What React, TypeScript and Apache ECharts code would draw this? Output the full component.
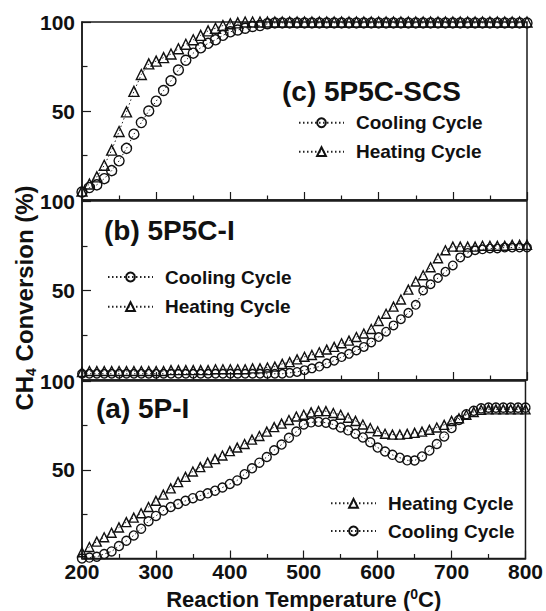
import React, { useEffect, useRef } from 'react';
import * as echarts from 'echarts';

const temps = [
  200, 210, 220, 230, 240, 250, 260, 270, 280, 290,
  300, 310, 320, 330, 340, 350, 360, 370, 380, 390,
  400, 410, 420, 430, 440, 450, 460, 470, 480, 490,
  500, 510, 520, 530, 540, 550, 560, 570, 580, 590,
  600, 610, 620, 630, 640, 650, 660, 670, 680, 690,
  700, 710, 720, 730, 740, 750, 760, 770, 780, 790,
  800,
];

// (c) 5P5C-SCS
const cHeating = [
  5, 9, 13, 19.5, 28, 38.5, 49.5, 61, 70.5, 76.5,
  78, 80, 82, 85, 87.5, 90, 92.5, 95, 96.5, 98,
  99, 99.5, 100, 100, 100, 100, 100, 100, 100, 100,
  100, 100, 100, 100, 100, 100, 100, 100, 100, 100,
  100, 100, 100, 100, 100, 100, 100, 100, 100, 100,
  100, 100, 100, 100, 100, 100, 100, 100, 100, 100,
  100,
];
const cCooling = [
  4.5, 7, 8.5, 12, 16.5, 22, 29, 37, 43.5, 50,
  55.5, 61.5, 67, 73, 78.5, 82.5, 85.5, 88, 90, 92.5,
  94.5, 95.5, 96.5, 97.5, 98, 99, 99.5, 99.5, 99.5, 99.5,
  99.5, 99.5, 99.5, 99.5, 99.5, 99.5, 99.5, 99.5, 99.5, 99.5,
  99.5, 99.5, 99.5, 99.5, 99.5, 99.5, 99.5, 99.5, 99.5, 99.5,
  99.5, 99.5, 99.5, 99.5, 99.5, 99.5, 99.5, 99.5, 99.5, 99.5,
  99.5,
];

// (b) 5P5C-I
const bHeating = [
  4.5, 5, 5, 5, 5, 5, 5, 5, 5, 5,
  5, 5, 5.5, 5.5, 5.5, 5.5, 5.5, 5.5, 6, 6,
  6, 6, 6, 6.5, 6.5, 7, 7.5, 9, 10, 11.5,
  13, 14, 15.5, 17, 18.5, 20.5, 22, 24, 26, 28.5,
  33, 37, 41, 45, 50.5, 55, 58.5, 63, 68, 72.5,
  74.5, 74.5, 74.5, 74.5, 75, 75, 75, 75, 75.5, 75.5,
  75.5,
];
const bCooling = [
  3.5, 3.5, 3.5, 3.5, 3.5, 3.5, 3.5, 3.5, 3.5, 3.5,
  3.5, 3.5, 3.5, 3.5, 3.5, 3.5, 3.5, 3.5, 3.5, 3.5,
  3.5, 3.5, 3.5, 3.5, 3.5, 3.5, 3.5, 3.5, 4, 4.5,
  5.5, 6.5, 7.5, 9.3, 10.8, 12.8, 14.6, 16.5, 18.5, 21,
  24, 27, 30.5, 34, 37.5, 42, 50, 53.5, 57, 60.5,
  64, 68.5, 71, 72.5, 73, 73.5, 73.5, 74, 74, 74,
  74,
];

// (a) 5P-I
const aHeating = [
  3.5, 6.5, 9.5, 12, 14.5, 17.5, 20.5, 23, 25.5, 29,
  32.5, 36, 39.5, 43, 46, 49, 51.5, 54, 56, 58,
  60.5, 62.5, 64.5, 67, 69, 71.5, 74, 76, 78, 80,
  81, 82.3, 83, 83, 82, 81, 79.3, 77.5, 75.5, 73.5,
  71.7, 70.3, 69.8, 69.8, 70.2, 70.8, 71.5, 72.5, 73.8, 75.3,
  77.5, 79, 81, 82.5, 83.8, 84, 84, 84, 84, 84,
  84,
];
const aCooling = [
  0, 0.5, 1, 2.5, 4, 7, 10, 13, 16.8, 21,
  24, 27, 29, 30.7, 32.5, 34, 35.4, 36.7, 38.2, 40,
  42, 44, 47.5, 50.8, 54, 57.2, 61, 64.2, 68, 71.5,
  75.5, 76.7, 77, 76.5, 75.5, 73.8, 72.2, 70.3, 68.2, 65.5,
  62.5, 60.3, 58.4, 56.8, 55.3, 55.2, 57.5, 60.8, 64.5, 68.8,
  73.5, 78, 81.3, 83.2, 84.6, 85, 85, 85, 85, 85,
  85,
];

const panelTitles = ['(c) 5P5C-SCS', '(b) 5P5C-I', '(a) 5P-I'];
const xTickLabels = ['200', '300', '400', '500', '600', '700', '800'];
const yTickLabels = ['50', '100'];

const FONT = '"Liberation Sans", Arial, Helvetica, sans-serif';
const INK = '#111';
const DOTS = [1.5, 2.5];

export default function App() {
  const ref = useRef<HTMLDivElement>(null);
  useEffect(() => {
    document.body.style.margin = '0';
    const chart = echarts.init(ref.current!, null, { renderer: 'svg' });

    const grids = [
      { left: 82, right: 19, top: 22, height: 178 },
      { left: 82, right: 19, top: 201, height: 179 },
      { left: 82, right: 19, top: 381, height: 179 },
    ].map((g) => ({ ...g, show: true, borderColor: '#1a1a1a', borderWidth: 1.5, backgroundColor: 'transparent' }));

    const xAxes = [0, 1, 2].map((i) => ({
      type: 'value',
      gridIndex: i,
      min: 200,
      max: 800,
      interval: 100,
      axisLine: { show: true, lineStyle: { color: '#1a1a1a', width: 1.5 } },
      axisTick: { show: true, inside: true, length: 8, lineStyle: { color: '#1a1a1a', width: 1.2 } },
      minorTick: { show: true, splitNumber: 2, length: 4.5, lineStyle: { color: '#1a1a1a', width: 1.2 } },
      splitLine: { show: false },
      axisLabel: {
        show: i === 2,
        margin: 2,
        fontSize: 21,
        fontWeight: 'bold',
        fontFamily: FONT,
        color: INK,
        showMinLabel: true,
        showMaxLabel: true,
        formatter: (v: number) => (xTickLabels.includes(String(v)) ? String(v) : ''),
      },
      name: i === 2 ? '{n|Reaction Temperature (}{sup|0}{n|C)}' : '',
      nameLocation: 'middle',
      nameGap: 28,
      nameTextStyle: {
        rich: {
          n: { fontSize: 22, fontWeight: 'bold', fontFamily: FONT, color: INK, lineHeight: 25 },
          sup: { fontSize: 14, fontWeight: 'bold', fontFamily: FONT, color: INK, verticalAlign: 'top', lineHeight: 14 },
        },
      },
    }));

    const yAxes = [0, 1, 2].map((i) => ({
      type: 'value',
      gridIndex: i,
      min: 0,
      max: 100,
      interval: 50,
      axisLine: { show: true, lineStyle: { color: '#1a1a1a', width: 1.5 } },
      axisTick: { show: true, inside: true, length: 9, lineStyle: { color: '#1a1a1a', width: 1.2 } },
      minorTick: { show: true, splitNumber: 2, length: 5.5, lineStyle: { color: '#1a1a1a', width: 1.2 } },
      splitLine: { show: false },
      axisLabel: {
        margin: 7,
        fontSize: 21,
        fontWeight: 'bold',
        fontFamily: FONT,
        color: INK,
        showMinLabel: true,
        showMaxLabel: true,
        formatter: (v: number) => (yTickLabels.includes(String(v)) ? String(v) : ''),
      },
    }));

    const mk = (name: string, idx: number, ys: number[], symbol: string, size: number) => ({
      type: 'line',
      name,
      xAxisIndex: idx,
      yAxisIndex: idx,
      data: temps.map((t, k) => [t, ys[k]]),
      symbol,
      symbolSize: size,
      showAllSymbol: true,
      lineStyle: { type: DOTS, width: 1, color: '#222' },
      itemStyle: { color: 'rgba(255,255,255,0)', borderColor: '#111', borderWidth: 1.4 },
      z: 3,
    });

    const series = [
      mk('Cooling Cycle', 0, cCooling, 'circle', 10),
      mk('Heating Cycle', 0, cHeating, 'triangle', 10),
      mk('Cooling Cycle', 1, bCooling, 'circle', 8.5),
      mk('Heating Cycle', 1, bHeating, 'triangle', 9),
      mk('Heating Cycle', 2, aHeating, 'triangle', 9),
      mk('Cooling Cycle', 2, aCooling, 'circle', 9),
    ];

    const legendBase = {
      orient: 'vertical',
      itemWidth: 45,
      itemHeight: 11,
      padding: 0,
      selectedMode: false,
      textStyle: { fontSize: 19, fontWeight: 'bold', fontFamily: FONT, color: INK, lineHeight: 22, padding: [0, 0, 0, 7] },
    };

    const titlePos = [
      { x: 282, y: 91 },
      { x: 104, y: 230 },
      { x: 96, y: 408 },
    ];

    const graphics: any[] = panelTitles.map((t, i) => ({
      type: 'text',
      x: titlePos[i].x,
      y: titlePos[i].y,
      z: 10,
      style: {
        text: t,
        fontSize: 28,
        fontWeight: 'bold',
        fontFamily: FONT,
        fill: INK,
        verticalAlign: 'middle',
      },
    }));
    graphics.push({
      type: 'text',
      x: 24,
      y: 298,
      rotation: Math.PI / 2,
      z: 10,
      style: {
        text: '{n|CH}{sub|4}{n| Conversion (%)}',
        align: 'center',
        verticalAlign: 'middle',
        fill: INK,
        rich: {
          n: { fontSize: 24, fontWeight: 'bold', fontFamily: FONT, fill: INK, lineHeight: 27 },
          sub: { fontSize: 14, fontWeight: 'bold', fontFamily: FONT, fill: INK, verticalAlign: 'bottom', lineHeight: 15 },
        },
      },
    });

    chart.setOption({
      animation: false,
      backgroundColor: '#fff',
      grid: grids,
      xAxis: xAxes,
      yAxis: yAxes,
      series,
      legend: [
        { ...legendBase, left: 298, top: 111.7, itemGap: 7, data: ['Cooling Cycle', 'Heating Cycle'] },
        { ...legendBase, left: 107, top: 266, itemGap: 7.7, data: ['Cooling Cycle', 'Heating Cycle'] },
        { ...legendBase, left: 330, top: 492.3, itemGap: 5.7, data: ['Heating Cycle', 'Cooling Cycle'] },
      ],
      graphic: graphics,
    });

    return () => chart.dispose();
  }, []);
  return <div ref={ref} style={{ width: 546, height: 611 }} />;
}
